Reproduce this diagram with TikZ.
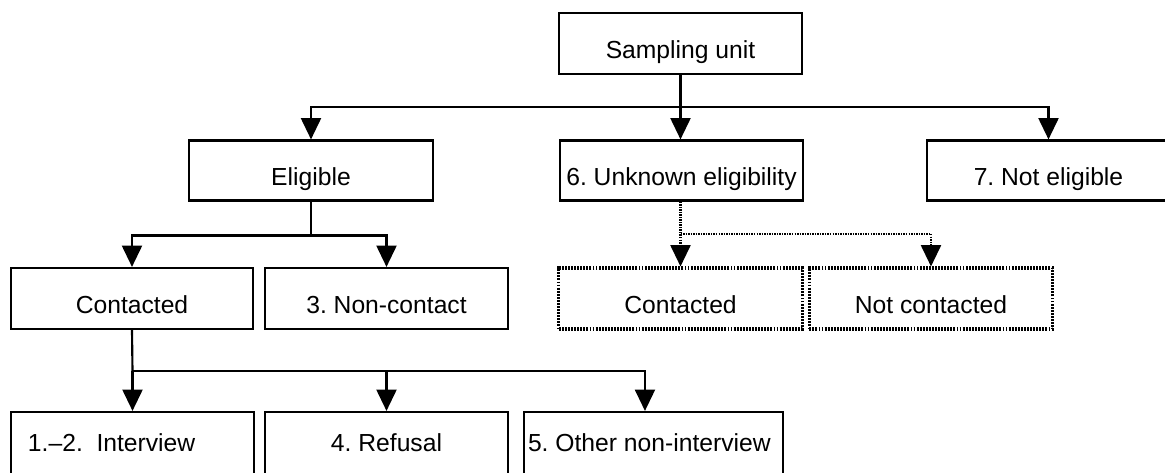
\documentclass[tikz,border=0pt]{standalone}
\usepackage{fontspec}
\setmainfont{Liberation Sans}
\frenchspacing
\usetikzlibrary{arrows.meta}
\begin{document}
\begin{tikzpicture}[x=0.75pt,y=-0.75pt,
  box/.style={draw=black, line width=1.6pt, rectangle, inner sep=0pt,
    minimum width=182.5pt, minimum height=45pt,
    text height=27.5pt, text depth=5pt,
    font=\fontsize{18.5}{22}\selectfont},
  lowbox/.style={box, minimum height=60pt, text height=5pt, text depth=5pt},
  dotbox/.style={box, line width=2.3pt, dash pattern=on 1.4pt off 0.9pt},
  conn/.style={line width=1.6pt},
  arr/.style={conn, -{Triangle[length=16pt,width=15pt]}},
  dotline/.style={line width=1.6pt, dash pattern=on 1.1pt off 0.8pt},
  dotarr/.style={dotline, -{Triangle[length=16pt,width=15pt]}}
]
\useasboundingbox (0,0) rectangle (1165,473);
\clip (0,0) rectangle (1165,473);
% row 1
\node[box, minimum height=45.75pt] (su) at (680.5,43.5) {Sampling unit};
% row 2
\node[box] (elig) at (311,170.5) {Eligible};
\node[box] (unk) at (681.5,170.5) {6. Unknown eligibility};
\node[box] (note) at (1048.5,170.5) {7. Not eligible};
% row 3
\node[box, minimum height=45.75pt, minimum width=181.5pt] (cont) at (132,298.5) {Contacted};
\node[box, minimum height=45.75pt] (nonc) at (386.5,298.5) {3. Non-contact};
\node[dotbox, minimum height=45.75pt] (ucont) at (680.5,298.5) {Contacted};
\node[dotbox, minimum height=45.75pt] (unc) at (931,298.5) {Not contacted};
% row 4
\node[lowbox] (r1) at (132.5,452) {\makebox[182.25pt][l]{\hspace{12.75pt}1.–2.\ \ Interview}};
\node[lowbox] (r2) at (386.5,452) {4. Refusal};
\node[lowbox, minimum width=194.25pt] (r3) at (653.5,452) {\makebox[194.25pt][l]{\hspace{3pt}5. Other non-interview}};
% junctions
\coordinate (j1) at (680.5,107);
\coordinate (j2) at (311,235.5);
\coordinate (j3) at (680.5,234);
\coordinate (j4) at (132.5,371);
% connectors
\draw[conn] (su.south) -- (j1);
\draw[arr] (j1) -| (elig.north);
\draw[arr] (j1) -- (unk.north -| j1);
\draw[arr] (j1) -| (note.north);
\draw[conn] (elig.south) -- (j2);
\draw[arr] (j2) -| (cont.north);
\draw[arr] (j2) -| (nonc.north);
\draw[dotarr] (unk.south -| j3) -- (ucont.north -| j3);
\draw[dotline] (j3) -- (j3 -| unc.north);
\draw[dotarr] (j3 -| unc.north) -- (unc.north);
\draw[conn] (cont.south) -- (j4);
\draw[arr] (j4) -| (r1.north);
\draw[arr] (j4) -| (r2.north);
\draw[arr] (j4) -| ([xshift=-6.4pt]r3.north);
\end{tikzpicture}
\end{document}
